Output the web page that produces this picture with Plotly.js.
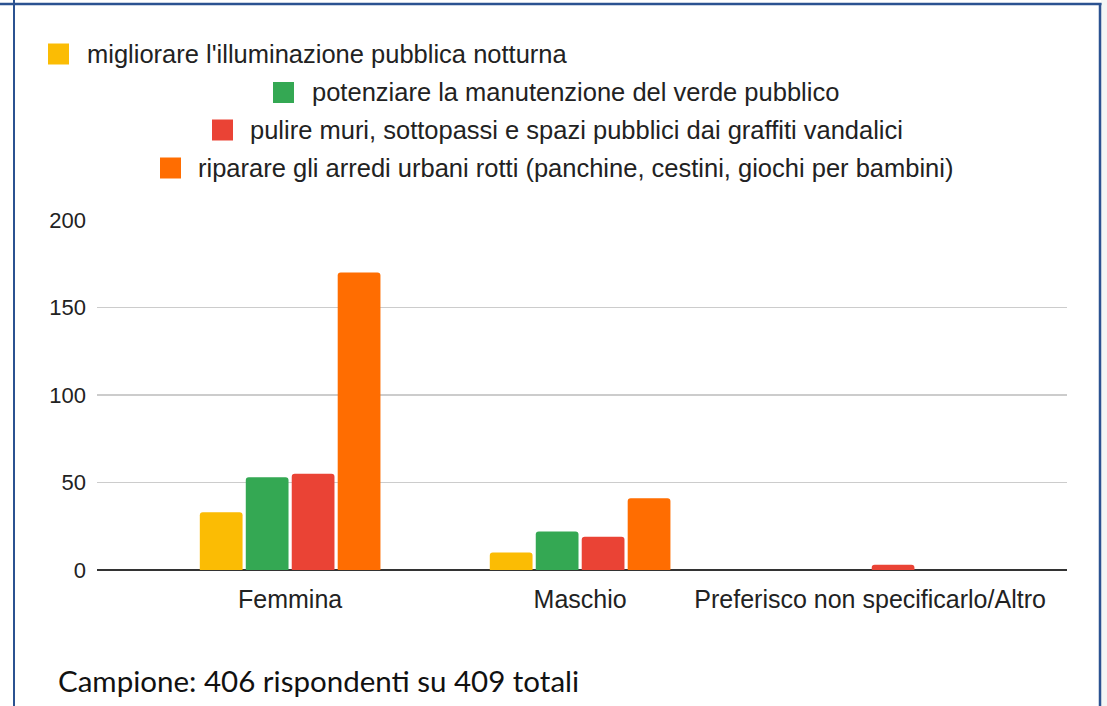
<!DOCTYPE html>
<html>
<head>
<meta charset="utf-8">
<script src="https://cdn.plot.ly/plotly-3.0.1.min.js"></script>
<style>
html,body{margin:0;padding:0;background:#fff;}
#chart{width:1107px;height:706px;}
</style>
</head>
<body>
<div id="chart"></div>
<script>
// ---- data ----
const categories = ["Femmina", "Maschio", "Preferisco non specificarlo/Altro"];
const seriesNames = [
  "migliorare l'illuminazione pubblica notturna",
  "potenziare la manutenzione del verde pubblico",
  "pulire muri, sottopassi e spazi pubblici dai graffiti vandalici",
  "riparare gli arredi urbani rotti (panchine, cestini, giochi per bambini)"
];
const illuminazione = [33, 10, 0];
const verde = [53, 22, 0];
const graffiti = [55, 19, 3];
const arredi = [170, 41, 0];
const yTicks = [0, 50, 100, 150, 200];
const footnote = "Campione: 406 rispondenti su 409 totali";

// ---- style ----
const colors = ["#FBBC04", "#34A853", "#EA4335", "#FF6D01"];
const W = 1107, H = 706;
const M = {l: 97, r: 40, t: 220, b: 136};
const plotW = W - M.l - M.r, plotH = H - M.t - M.b;
const px = x => (x - M.l) / plotW;
const py = y => (H - M.b - y) / plotH;

const seriesValues = [illuminazione, verde, graffiti, arredi];
const traces = seriesValues.map((vals, i) => ({
  type: "bar",
  x: categories,
  y: vals,
  name: seriesNames[i],
  marker: {color: colors[i], line: {width: 0}},
  showlegend: false,
  hoverinfo: "x+y+name"
}));

// custom legend rows (Google Sheets style staggered layout)
const legendRows = [
  {sq: 48, tx: 85, y: 54},
  {sq: 273, tx: 310, y: 92.5},
  {sq: 212, tx: 248, y: 130},
  {sq: 160, tx: 196, y: 168}
];
const sqSize = 21;
const shapes = [];
const annotations = [];
legendRows.forEach((r, i) => {
  shapes.push({
    type: "rect", xref: "paper", yref: "paper",
    x0: px(r.sq), x1: px(r.sq + sqSize),
    y0: py(r.y - sqSize / 2), y1: py(r.y + sqSize / 2),
    fillcolor: colors[i], line: {width: 0}
  });
  annotations.push({
    xref: "paper", yref: "paper",
    x: px(r.tx), y: py(r.y),
    xanchor: "left", yanchor: "middle",
    text: seriesNames[i], showarrow: false,
    font: {family: "Liberation Sans, Arial, sans-serif", size: 25.5, color: "#222"}
  });
});

// footnote
annotations.push({
  xref: "paper", yref: "paper",
  x: px(56), y: py(680),
  xanchor: "left", yanchor: "middle",
  text: footnote, showarrow: false,
  font: {family: "Lato, Carlito, Calibri, sans-serif", size: 29.5, color: "#111"}
});

// frame
const frameColor = "#2B5291";
shapes.push({type: "rect", xref: "paper", yref: "paper",
  x0: px(1101), x1: px(W + 5), y0: py(H + 5), y1: py(-5),
  fillcolor: "#F3F6F6", line: {width: 0}});
shapes.push({type: "line", xref: "paper", yref: "paper",
  x0: px(0), x1: px(1101.5), y0: py(4), y1: py(4),
  line: {color: frameColor, width: 2.5}});
shapes.push({type: "line", xref: "paper", yref: "paper",
  x0: px(14), x1: px(14), y0: py(0), y1: py(H + 5),
  line: {color: frameColor, width: 2}});
shapes.push({type: "line", xref: "paper", yref: "paper",
  x0: px(1100), x1: px(1100), y0: py(3), y1: py(H + 5),
  line: {color: frameColor, width: 2.5}});

const layout = {
  width: W, height: H,
  margin: M,
  paper_bgcolor: "#fff",
  plot_bgcolor: "#fff",
  barmode: "group",
  bargap: 0.366,
  bargroupgap: 0.07,
  barcornerradius: 3,
  font: {family: "Liberation Sans, Arial, sans-serif", color: "#222"},
  xaxis: {
    type: "category",
    range: [-0.666, 2.679],
    showgrid: false,
    showline: false,
    zeroline: false,
    ticks: "",
    ticklabelstandoff: 12,
    tickfont: {size: 25, color: "#222"},
    fixedrange: true
  },
  yaxis: {
    range: [0, 200],
    tickvals: yTicks,
    ticktext: yTicks.map(String),
    showgrid: true,
    gridcolor: "#CCCCCC",
    gridwidth: 1.8,
    zeroline: true,
    zerolinecolor: "#333333",
    zerolinewidth: 2,
    showline: false,
    ticks: "",
    ticklabelstandoff: 10,
    tickfont: {size: 22, color: "#222"},
    fixedrange: true
  },
  shapes: shapes,
  annotations: annotations,
  showlegend: false
};

Plotly.newPlot("chart", traces, layout, {displayModeBar: false, staticPlot: true});
</script>
</body>
</html>
